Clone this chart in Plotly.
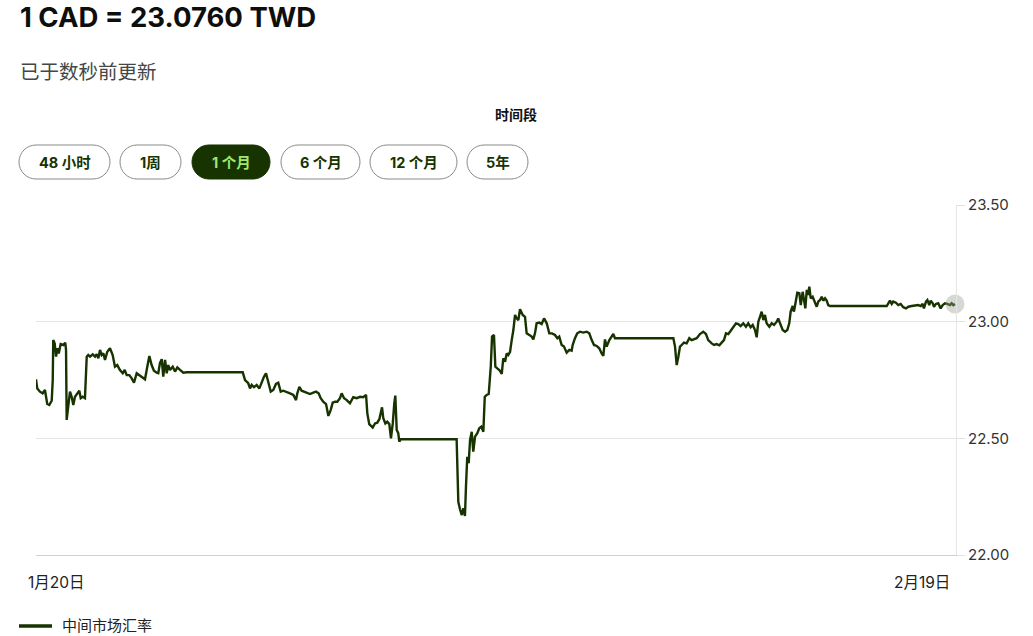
import plotly.graph_objects as go

# ---- data (hours since 1月20日 00:00, CAD→TWD mid-market rate) ----
hours = [0.0, 1.0, 3.1, 5.2, 7.0, 7.8, 8.8, 10.4, 12.3, 13.1, 13.5, 14.6, 15.7, 16.7, 17.8, 19.3, 21.4, 22.9,
         23.5, 24.0, 25.3, 26.6, 27.9, 29.2, 30.5, 32.3, 33.9, 35.0, 36.5, 38.3, 39.7, 40.9, 42.3, 44.4, 46.2,
         47.5, 48.8, 50.1, 51.4, 52.7, 54.0, 55.8, 57.9, 60.0, 61.8, 63.6, 65.7, 67.9, 69.4, 71.0, 73.0, 74.9,
         76.7, 78.8, 80.8, 82.7, 85.3, 87.1, 88.7, 90.5, 92.3, 94.5, 95.7, 97.0, 98.4, 99.6, 101.0, 102.3,
         103.5, 104.9, 107.0, 108.8, 110.6, 112.7, 115.3, 117.9, 161.8, 163.6, 166.1, 167.5, 168.8, 170.6,
         172.7, 174.8, 176.6, 178.4, 180.0, 181.8, 183.7, 185.7, 187.8, 189.6, 191.5, 193.5, 196.2, 198.8,
         201.4, 203.5, 204.5, 206.1, 207.9, 209.7, 211.8, 214.4, 217.0, 219.1, 221.2, 222.8, 224.8, 227.0,
         228.8, 230.6, 232.2, 234.0, 235.8, 237.9, 239.2, 241.1, 243.2, 245.7, 248.3, 251.0, 253.6, 256.1,
         258.3, 259.3, 260.8, 263.5, 265.3, 267.1, 268.7, 269.8, 270.8, 271.8, 273.4, 274.9, 276.5, 277.8,
         279.2, 280.4, 281.2, 282.3, 283.5, 284.3, 285.4, 329.2, 330.5, 331.8, 333.2, 334.4, 335.7, 336.5,
         337.5, 338.6, 339.7, 341.0, 342.2, 343.6, 345.4, 346.9, 348.5, 350.1, 351.2, 352.7, 354.3, 355.9,
         356.9, 358.4, 359.5, 361.0, 362.6, 364.5, 365.7, 367.1, 368.4, 369.6, 371.0, 372.3, 373.6, 374.9,
         376.2, 377.5, 378.8, 380.9, 382.7, 384.0, 386.0, 387.9, 389.2, 390.5, 391.8, 393.9, 395.7, 397.6,
         399.7, 401.7, 403.8, 406.2, 408.0, 409.5, 411.4, 413.2, 415.3, 417.4, 419.2, 420.0, 421.8, 423.6,
         425.7, 428.3, 431.0, 433.0, 434.9, 436.7, 438.8, 440.8, 442.7, 444.0, 445.3, 446.6, 448.7, 450.5,
         451.8, 453.1, 498.8, 500.1, 501.4, 502.7, 504.0, 505.3, 507.1, 509.2, 511.3, 513.1, 514.9, 517.1,
         519.6, 522.2, 524.3, 526.1, 528.8, 530.6, 532.7, 534.8, 536.6, 538.4, 540.0, 541.8, 543.7, 545.7,
         547.8, 549.6, 551.5, 553.5, 555.6, 557.4, 559.3, 560.9, 562.7, 564.0, 565.3, 566.6, 567.9, 569.2,
         570.5, 571.8, 573.9, 575.8, 577.6, 579.7, 580.9, 582.3, 584.4, 586.2, 588.0, 589.5, 590.6, 592.2,
         593.2, 594.8, 595.8, 597.4, 598.5, 600.0, 601.0, 602.1, 603.2, 604.2, 605.2, 606.3, 607.8, 609.6,
         611.0, 612.2, 613.6, 614.9, 616.1, 617.5, 618.8, 620.0, 621.4, 665.8, 667.0, 668.3, 669.7, 670.9,
         673.0, 674.8, 676.7, 678.7, 680.9, 682.7, 685.3, 687.9, 690.5, 692.4, 693.9, 694.9, 696.5, 697.6,
         699.1, 700.2, 701.8, 702.8, 704.3, 706.1, 708.0, 709.6, 711.4, 713.2, 715.3, 716.6, 717.9, 719.2]

rates = [22.753, 22.714, 22.700, 22.693, 22.707, 22.678, 22.647, 22.643, 22.661, 22.750, 22.921, 22.907,
         22.850, 22.886, 22.864, 22.904, 22.900, 22.910, 22.879, 22.579, 22.636, 22.700, 22.678, 22.643,
         22.678, 22.693, 22.704, 22.672, 22.678, 22.672, 22.850, 22.857, 22.850, 22.860, 22.850, 22.861,
         22.843, 22.879, 22.857, 22.864, 22.836, 22.871, 22.886, 22.857, 22.807, 22.814, 22.793, 22.779,
         22.793, 22.771, 22.771, 22.757, 22.738, 22.779, 22.771, 22.764, 22.753, 22.807, 22.853, 22.814,
         22.790, 22.781, 22.779, 22.822, 22.839, 22.764, 22.836, 22.779, 22.814, 22.793, 22.807, 22.786,
         22.804, 22.793, 22.781, 22.783, 22.783, 22.750, 22.736, 22.714, 22.729, 22.719, 22.729, 22.714,
         22.743, 22.764, 22.779, 22.736, 22.700, 22.707, 22.733, 22.738, 22.700, 22.704, 22.700, 22.693,
         22.686, 22.664, 22.693, 22.721, 22.704, 22.700, 22.693, 22.690, 22.696, 22.700, 22.693, 22.672,
         22.657, 22.647, 22.596, 22.621, 22.653, 22.657, 22.657, 22.672, 22.693, 22.672, 22.664, 22.650,
         22.676, 22.672, 22.678, 22.676, 22.686, 22.607, 22.561, 22.546, 22.564, 22.567, 22.582, 22.607,
         22.633, 22.586, 22.564, 22.571, 22.561, 22.500, 22.564, 22.650, 22.683, 22.536, 22.522, 22.486,
         22.496, 22.496, 22.228, 22.196, 22.171, 22.200, 22.167, 22.293, 22.421, 22.393, 22.493, 22.528,
         22.443, 22.507, 22.522, 22.543, 22.550, 22.528, 22.678, 22.686, 22.690, 22.807, 22.936, 22.943,
         22.807, 22.800, 22.793, 22.776, 22.843, 22.828, 22.864, 22.857, 22.871, 22.921, 22.964, 23.029,
         23.014, 23.007, 23.053, 23.029, 23.021, 22.950, 22.943, 22.936, 22.924, 22.950, 22.993, 22.996,
         22.990, 23.014, 22.993, 22.950, 22.950, 22.943, 22.929, 22.936, 22.900, 22.893, 22.867, 22.879,
         22.876, 22.900, 22.929, 22.950, 22.957, 22.953, 22.957, 22.950, 22.921, 22.900, 22.896, 22.886,
         22.864, 22.853, 22.924, 22.893, 22.921, 22.936, 22.947, 22.929, 22.929, 22.893, 22.814, 22.850,
         22.893, 22.900, 22.910, 22.907, 22.929, 22.921, 22.924, 22.929, 22.947, 22.957, 22.947, 22.921,
         22.907, 22.900, 22.904, 22.899, 22.910, 22.921, 22.950, 22.947, 22.961, 22.978, 22.993, 22.990,
         22.981, 22.993, 22.978, 22.993, 22.976, 22.986, 22.964, 22.933, 23.000, 23.021, 23.043, 23.007,
         23.029, 22.993, 22.978, 22.993, 22.986, 23.000, 23.014, 22.993, 22.964, 22.957, 22.964, 22.993,
         23.043, 23.067, 23.043, 23.093, 23.124, 23.122, 23.071, 23.128, 23.093, 23.057, 23.136, 23.114,
         23.150, 23.100, 23.107, 23.079, 23.064, 23.086, 23.093, 23.107, 23.090, 23.100, 23.090, 23.071,
         23.067, 23.067, 23.079, 23.090, 23.076, 23.086, 23.081, 23.071, 23.076, 23.062, 23.057, 23.064,
         23.067, 23.070, 23.071, 23.067, 23.076, 23.057, 23.086, 23.093, 23.071, 23.090, 23.079, 23.064,
         23.076, 23.079, 23.057, 23.071, 23.079, 23.076, 23.071, 23.079, 23.071, 23.076]

y_ticks = [22.0, 22.5, 23.0, 23.5]
x_labels = ["1月20日", "2月19日"]
periods = ["48 小时", "1周", "1 个月", "6 个月", "12 个月", "5年"]
active_period = "1 个月"
series_name = "中间市场汇率"
title_text = "1 CAD = 23.0760 TWD"
subtitle_text = "已于数秒前更新"

# ---- layout helpers (pixel -> paper) ----
W, H = 1033, 636
L, R, T, B = 36, 956, 205, 555
FOREST = "#163300"
BRIGHT = "#9fe870"
FONT = "Inter, Noto Sans CJK SC, sans-serif"


def px(x):
    return (x - L) / (R - L)


def py(y):
    return (B - y) / (B - T)


def pill(x0, x1, y0, y1):
    r = (y1 - y0) / 2.0
    k = 0.5523 * r

    def P(x, y):
        return f"{px(x):.5f},{py(y):.5f}"
    s = f"M {P(x0 + r, y0)} L {P(x1 - r, y0)} "
    s += f"C {P(x1 - r + k, y0)} {P(x1, y0 + r - k)} {P(x1, y0 + r)} "
    s += f"C {P(x1, y0 + r + k)} {P(x1 - r + k, y1)} {P(x1 - r, y1)} "
    s += f"L {P(x0 + r, y1)} "
    s += f"C {P(x0 + r - k, y1)} {P(x0, y0 + r + k)} {P(x0, y0 + r)} "
    s += f"C {P(x0, y0 + r - k)} {P(x0 + r - k, y0)} {P(x0 + r, y0)} Z"
    return s


fig = go.Figure()
fig.add_trace(go.Scatter(
    x=hours, y=rates, mode="lines", name=series_name,
    line=dict(color=FOREST, width=2.4), hoverinfo="x+y", showlegend=False,
))
fig.add_trace(go.Scatter(
    x=[hours[-1]], y=[rates[-1]], mode="markers", showlegend=False, cliponaxis=False,
    marker=dict(size=19, color="rgba(150,160,140,0.40)", line=dict(width=0)),
    hoverinfo="skip",
))

shapes = []
annotations = []

# buttons
btn_x = [(19, 110), (120, 181), (192, 270), (281, 360), (370, 457), (467, 528)]
for (x0, x1), lab in zip(btn_x, periods):
    active = lab == active_period
    shapes.append(dict(
        type="path", xref="paper", yref="paper", path=pill(x0, x1, 145, 179),
        fillcolor=FOREST if active else "white",
        line=dict(color=FOREST if active else "#8a8a8a", width=1),
        layer="above",
    ))
    annotations.append(dict(
        text=f"<b>{lab}</b>", xref="paper", yref="paper",
        x=px((x0 + x1) / 2), y=py(162), xanchor="center", yanchor="middle",
        showarrow=False, font=dict(family=FONT, size=14.5, color=BRIGHT if active else FOREST),
    ))

annotations.append(dict(
    text="<b>时间段</b>", xref="paper", yref="paper", x=px(516), y=py(114),
    xanchor="center", yanchor="middle", showarrow=False,
    font=dict(family=FONT, size=14, color="#111"),
))
annotations.append(dict(
    text=f"<b>{title_text}</b>", xref="paper", yref="paper", x=px(18), y=py(17),
    xanchor="left", yanchor="middle", showarrow=False,
    font=dict(family=FONT, size=27.5, color="#0e0f0c"),
))
annotations.append(dict(
    text=subtitle_text, xref="paper", yref="paper", x=px(18), y=py(72),
    xanchor="left", yanchor="middle", showarrow=False,
    font=dict(family=FONT, size=19.5, color="#454745"),
))

# x-axis end labels
annotations.append(dict(
    text=x_labels[0], xref="paper", yref="paper", x=px(26), y=py(582),
    xanchor="left", yanchor="middle", showarrow=False,
    font=dict(family=FONT, size=15.5, color="#222"),
))
annotations.append(dict(
    text=x_labels[1], xref="paper", yref="paper", x=px(952), y=py(582),
    xanchor="right", yanchor="middle", showarrow=False,
    font=dict(family=FONT, size=15.5, color="#222"),
))

# legend
shapes.append(dict(type="line", xref="paper", yref="paper",
                   x0=px(19), x1=px(52), y0=py(626), y1=py(626),
                   line=dict(color=FOREST, width=3.5)))
annotations.append(dict(
    text=series_name, xref="paper", yref="paper", x=px(60), y=py(625),
    xanchor="left", yanchor="middle", showarrow=False,
    font=dict(family=FONT, size=15, color="#222"),
))

fig.update_layout(
    width=W, height=H,
    margin=dict(l=L, r=W - R, t=T, b=H - B, pad=0),
    paper_bgcolor="white", plot_bgcolor="white",
    shapes=shapes, annotations=annotations,
    showlegend=False,
    font=dict(family=FONT, size=14, color="#222"),
    xaxis=dict(range=[0, 720], showgrid=False, zeroline=False, showticklabels=False,
               ticks="", showline=True, linecolor="#d0d0d0", linewidth=1, fixedrange=True),
    yaxis=dict(range=[22.0, 23.5], side="right", tickvals=y_ticks, tickformat=".2f",
               showgrid=True, gridcolor="#e6e6e6", gridwidth=1, zeroline=False,
               ticks="outside", ticklen=8, tickcolor="#e0e0e0",
               showline=True, linecolor="#e6e6e6", linewidth=1,
               tickfont=dict(family=FONT, size=15, color="#333"), fixedrange=True),
)

fig.write_html(
    "out.html",
    config={"displayModeBar": False},
    post_script="document.body.style.margin='0';document.body.style.overflow='hidden';",
)
